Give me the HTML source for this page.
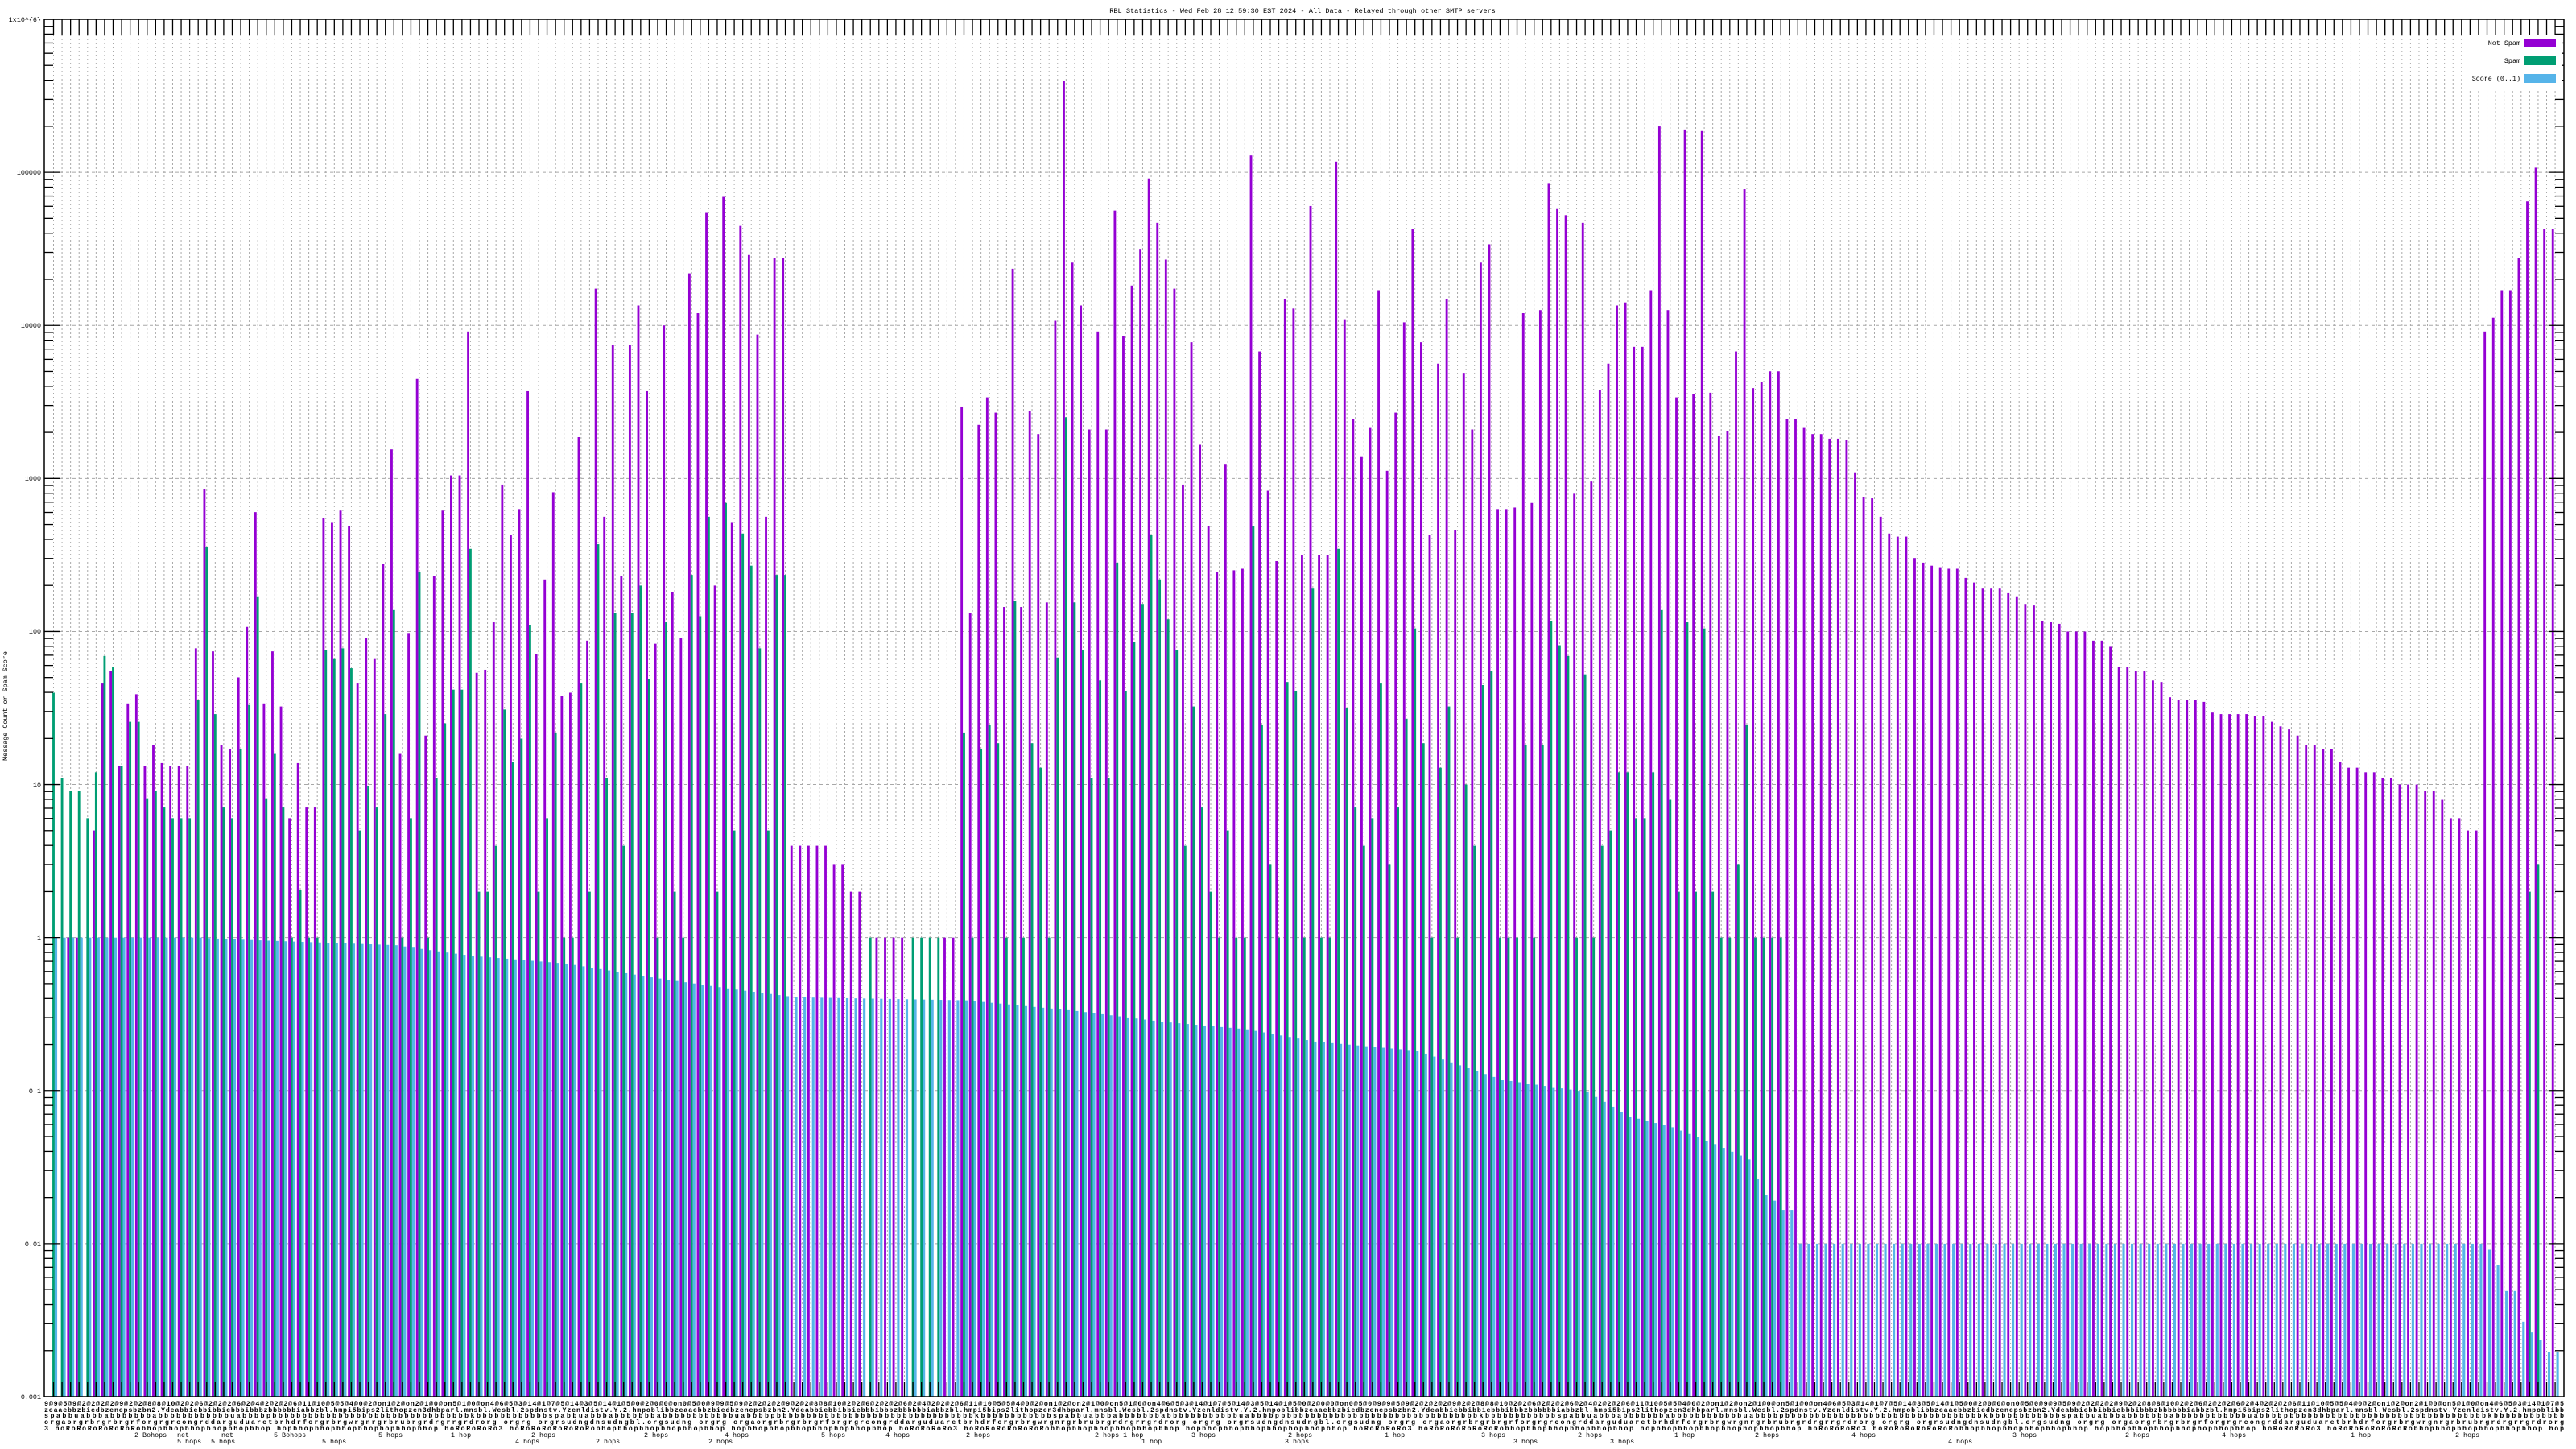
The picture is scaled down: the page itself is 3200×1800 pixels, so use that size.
<!DOCTYPE html>
<html><head><meta charset="utf-8">
<style>
html,body{margin:0;padding:0;background:#fff;}
svg{display:block;}
text{font-family:"Liberation Mono","DejaVu Sans Mono",monospace;fill:#000;}
</style></head>
<body>
<svg id="c" width="3200" height="1800" viewBox="0 0 3200 1800" xmlns="http://www.w3.org/2000/svg">
<rect x="0" y="0" width="3200" height="1800" fill="#fff"/>
<g id="grid"></g>
<g id="bars"></g>
<g id="axes"></g>
<rect x="3066" y="44" width="116" height="66" fill="#fff"/>
<text x="1618" y="16" font-size="8.6" text-anchor="middle">RBL Statistics - Wed Feb 28 12:59:30 EST 2024 - All Data - Relayed through other SMTP servers</text>
<g font-size="8.4" text-anchor="end">
<text x="51" y="27">1x10^{6}</text>
<text x="51" y="217">100000</text>
<text x="51" y="407">10000</text>
<text x="51" y="597">1000</text>
<text x="51" y="787">100</text>
<text x="51" y="978">10</text>
<text x="51" y="1168">1</text>
<text x="51" y="1358">0.1</text>
<text x="51" y="1548">0.01</text>
<text x="51" y="1738">0.001</text>
</g>
<text x="0" y="0" font-size="8.4" text-anchor="middle" transform="translate(9,877) rotate(-90)">Message Count or Spam Score</text>
<g font-size="8.4" text-anchor="end">
<text x="3131" y="56">Not Spam</text>
<text x="3131" y="78">Spam</text>
<text x="3131" y="100">Score (0..1)</text>
</g>
<rect x="3136" y="48" width="39" height="11" fill="#9400d3"/>
<rect x="3136" y="70" width="39" height="11" fill="#009e73"/>
<rect x="3136" y="92" width="39" height="11" fill="#56b4e9"/>
<g font-size="8.4" font-weight="bold">
<text x="55" y="1746" textLength="3130" lengthAdjust="spacing">9@9@5@9@2@2@2@2@9@2@2@8@8@10@2@2@6@2@2@2@6@2@4@2@2@2@6@11@10@5@5@4@0@2@on1@2@on2@1@0@on5@1@0@on4@6@5@3@14@1@7@5@14@3@5@14@1@5@0@2@0@0@on0@5@0@9@9@5@9@2@2@2@2@9@2@2@8@8@10@2@2@6@2@2@2@6@2@4@2@2@2@6@11@10@5@5@4@0@2@on1@2@on2@1@0@on5@1@0@on4@6@5@3@14@1@7@5@14@3@5@14@1@5@0@2@0@0@on0@5@0@9@9@5@9@2@2@2@2@9@2@2@8@8@10@2@2@6@2@2@2@6@2@4@2@2@2@6@11@10@5@5@4@0@2@on1@2@on2@1@0@on5@1@0@on4@6@5@3@14@1@7@5@14@3@5@14@1@5@0@2@0@0@on0@5@0@9@9@5@9@2@2@2@2@9@2@2@8@8@10@2@2@6@2@2@2@6@2@4@2@2@2@6@11@10@5@5@4@0@2@on1@2@on2@1@0@on5@1@0@on4@6@5@3@14@1@7@5</text>
<text x="55" y="1754" textLength="3130" lengthAdjust="spacing">zeaaebbzbiedbzenepsbzbn2.Ydeabbiebbibbiebbbibbbzbbbbbbiabbzbl.hmpi5bips2lithopzen3dhbparl.mnsbl.Wesbl.2spdnstv.Yzenldistv.Y.2.hmpoblibbzeaaebbzbiedbzenepsbzbn2.Ydeabbiebbibbiebbbibbbzbbbbbbiabbzbl.hmpi5bips2lithopzen3dhbparl.mnsbl.Wesbl.2spdnstv.Yzenldistv.Y.2.hmpoblibbzeaaebbzbiedbzenepsbzbn2.Ydeabbiebbibbiebbbibbbzbbbbbbiabbzbl.hmpi5bips2lithopzen3dhbparl.mnsbl.Wesbl.2spdnstv.Yzenldistv.Y.2.hmpoblibbzeaaebbzbiedbzenepsbzbn2.Ydeabbiebbibbiebbbibbbzbbbbbbiabbzbl.hmpi5bips2lithopzen3dhbparl.mnsbl.Wesbl.2spdnstv.Yzenldistv.Y.2.hmpoblibb</text>
<text x="55" y="1761" textLength="3130" lengthAdjust="spacing">spabbuabbbabbbbbbbabbbbbbbbbbbbuabbbbpbbbbbbbbbbbbbbbbbbbbbbbbbbbbbbbbbkbbbbbbbbbbbbspabbuabbbabbbbbbbabbbbbbbbbbbbuabbbbpbbbbbbbbbbbbbbbbbbbbbbbbbbbbbbbbbkbbbbbbbbbbbbspabbuabbbabbbbbbbabbbbbbbbbbbbuabbbbpbbbbbbbbbbbbbbbbbbbbbbbbbbbbbbbbbkbbbbbbbbbbbbspabbuabbbabbbbbbbabbbbbbbbbbbbuabbbbpbbbbbbbbbbbbbbbbbbbbbbbbbbbbbbbbbkbbbbbbbbbbbbspabbuabbbabbbbbbbabbbbbbbbbbbbuabbbbpbbbbbbbbbbbbbbbbbbbbbbbbbbbbbbbbbkbbbbbbbbbbbb</text>
<text x="55" y="1769" textLength="3130" lengthAdjust="spacing">orgaorgrbrgrbrgrforgrgrcongrddarguduaretbrhdrforgrbrgwrgnrgrbrubrgrdrgrrgrdrorg orgrg orgrsudngdnsudngbl.orgsudng orgrg orgaorgrbrgrbrgrforgrgrcongrddarguduaretbrhdrforgrbrgwrgnrgrbrubrgrdrgrrgrdrorg orgrg orgrsudngdnsudngbl.orgsudng orgrg orgaorgrbrgrbrgrforgrgrcongrddarguduaretbrhdrforgrbrgwrgnrgrbrubrgrdrgrrgrdrorg orgrg orgrsudngdnsudngbl.orgsudng orgrg orgaorgrbrgrbrgrforgrgrcongrddarguduaretbrhdrforgrbrgwrgnrgrbrubrgrdrgrrgrdrorg</text>
<text x="55" y="1777" textLength="3130" lengthAdjust="spacing">3 hoRoRoRoRoRoRoRobhopbhopbhopbhopbhopbhop hopbhopbhopbhopbhophopbhopbhop hoRoRoRoRo3 hoRoRoRoRoRoRoRobhopbhopbhopbhopbhopbhop hopbhopbhopbhopbhophopbhopbhop hoRoRoRoRo3 hoRoRoRoRoRoRoRobhopbhopbhopbhopbhopbhop hopbhopbhopbhopbhophopbhopbhop hoRoRoRoRo3 hoRoRoRoRoRoRoRobhopbhopbhopbhopbhopbhop hopbhopbhopbhopbhophopbhopbhop hoRoRoRoRo3 hoRoRoRoRoRoRoRobhopbhopbhopbhopbhopbhop hopbhopbhopbhopbhophopbhopbhop hoRoRoRoRo3 hoRoRoRoRoRoRoRobhopbhopbhopbhopbhopbhop hop</text>
</g>
<g font-size="8.4">
<text x="167" y="1785">2 Bohops</text><text x="220" y="1785">net</text><text x="275" y="1785">net</text>
<text x="340" y="1785">5 Bohops</text><text x="470" y="1785">5 hops</text><text x="560" y="1785">1 hop</text>
<text x="660" y="1785">2 hops</text><text x="800" y="1785">2 hops</text><text x="900" y="1785">4 hops</text>
<text x="1020" y="1785">5 hops</text><text x="1100" y="1785">4 hops</text><text x="1200" y="1785">2 hops</text>
<text x="1360" y="1785">2 hops 1 hop</text><text x="1480" y="1785">3 hops</text><text x="1600" y="1785">2 hops</text>
<text x="1720" y="1785">1 hop</text><text x="1840" y="1785">3 hops</text><text x="1960" y="1785">2 hops</text>
<text x="2080" y="1785">1 hop</text><text x="2180" y="1785">2 hops</text><text x="2300" y="1785">4 hops</text>
<text x="2500" y="1785">3 hops</text><text x="2640" y="1785">2 hops</text><text x="2760" y="1785">4 hops</text>
<text x="2920" y="1785">1 hop</text><text x="3050" y="1785">2 hops</text>
<text x="220" y="1793">5 hops</text><text x="262" y="1793">5 hops</text><text x="400" y="1793">5 hops</text>
<text x="640" y="1793">4 hops</text><text x="740" y="1793">2 hops</text><text x="880" y="1793">2 hops</text>
<text x="1418" y="1793">1 hop</text><text x="1596" y="1793">3 hops</text><text x="1880" y="1793">3 hops</text>
<text x="2000" y="1793">3 hops</text><text x="2420" y="1793">4 hops</text>
</g>
</svg>
<script>
(function(){
var NS="http://www.w3.org/2000/svg";
function el(p,t,a){var e=document.createElementNS(NS,t);for(var k in a)e.setAttribute(k,a[k]);p.appendChild(e);return e;}
var n=null;
var P=[n,n,0,0,n,.70,1.66,1.74,1.12,1.53,1.59,1.12,1.26,1.14,1.12,1.12,1.12,1.89,2.93,1.87,1.26,1.23,1.70,2.03,2.78,1.53,1.87,1.51,.78,1.14,.85,.85,2.74,2.71,2.79,2.69,1.66,1.96,1.82,2.44,3.19,1.20,1.99,3.65,1.32,2.36,2.79,3.02,3.02,3.96,
1.73,1.75,2.06,2.96,2.63,2.80,3.57,1.85,2.34,2.91,1.58,1.60,3.27,1.94,4.24,2.75,3.87,2.36,3.87,4.13,3.57,1.92,4.0,2.26,1.96,4.34,4.08,4.74,2.30,4.84,2.71,4.65,4.46,3.94,2.75,4.44,4.44,.6,.6,.6,.6,.6,.48,.48,.3,.3,n,0,0,0,
0,n,n,n,n,0,0,3.47,2.12,3.35,3.53,3.43,2.16,4.37,2.16,3.44,3.29,2.19,4.03,5.60,4.41,4.13,3.32,3.96,3.32,4.75,3.93,4.26,4.50,4.96,4.67,4.43,4.24,2.96,3.89,3.22,2.69,2.39,3.09,2.40,2.41,5.11,3.83,2.92,2.46,4.17,4.11,2.50,4.78,2.50,
2.50,5.07,4.04,3.39,3.14,3.33,4.23,3.05,3.43,4.02,4.63,3.89,2.63,3.75,4.17,2.66,3.69,3.32,4.41,4.53,2.80,2.80,2.81,4.08,2.84,4.10,4.93,4.76,4.72,2.90,4.67,2.98,3.58,3.75,4.13,4.15,3.86,3.86,4.23,5.30,4.10,3.53,5.28,3.55,5.27,3.56,3.28,3.31,3.83,4.89,
3.59,3.63,3.70,3.70,3.39,3.39,3.33,3.29,3.29,3.26,3.26,3.25,3.04,2.88,2.87,2.75,2.64,2.62,2.62,2.48,2.45,2.43,2.42,2.41,2.41,2.35,2.32,2.28,2.28,2.28,2.25,2.23,2.18,2.17,2.07,2.06,2.05,2.00,2.00,2.00,1.94,1.94,1.90,1.77,1.77,1.74,1.74,1.68,1.67,1.57,
1.55,1.55,1.55,1.54,1.47,1.46,1.46,1.46,1.46,1.45,1.45,1.41,1.38,1.36,1.32,1.26,1.26,1.23,1.23,1.15,1.11,1.11,1.08,1.08,1.04,1.04,1.00,1.00,1.00,.96,.96,.90,.78,.78,.70,.70,3.96,4.05,4.23,4.23,4.44,4.81,5.03,4.63,4.63];
var G=[1.60,1.04,.96,.96,.78,1.08,1.84,1.77,1.12,1.41,1.41,.91,.96,.85,.78,.78,.78,1.55,2.55,1.46,.85,.78,1.23,1.52,2.23,.91,1.20,.85,0,.31,0,0,1.88,1.82,1.89,1.76,.70,.99,.85,1.46,2.14,0,.78,2.39,0,1.04,1.40,1.62,1.62,2.54,
.30,.30,.60,1.49,1.15,1.30,2.04,.30,.78,1.34,0,0,1.66,.30,2.57,1.04,2.12,.60,2.12,2.30,1.69,0,2.06,.30,0,2.37,2.10,2.75,.30,2.84,.70,2.64,2.43,1.89,.70,2.37,2.37,n,n,n,n,n,n,n,n,n,0,n,n,n,
n,0,0,0,0,n,n,1.34,0,1.23,1.39,1.27,0,2.20,0,1.27,1.11,0,1.83,3.40,2.19,1.88,1.04,1.68,1.04,2.45,1.61,1.93,2.18,2.63,2.34,2.08,1.88,.60,1.51,.85,.30,0,.70,0,0,2.69,1.39,.48,0,1.67,1.61,0,2.28,0,
0,2.54,1.50,.85,.60,.78,1.66,.48,.85,1.43,2.02,1.27,0,1.11,1.51,0,1.00,.60,1.65,1.74,0,0,0,1.26,0,1.26,2.07,1.91,1.84,0,1.72,0,.60,.70,1.08,1.08,.78,.78,1.08,2.14,.90,.30,2.06,.30,2.02,.30,0,0,.48,1.39,
0,0,0,0];
G[291]=.30;G[292]=.48;
var BA=[[0,0],[17,0],[20,-.01],[30,-.03],[40,-.05],[45,-.09],[49,-.12],[60,-.17],[70,-.26],[80,-.34],[87,-.39],[107,-.41],[120,-.48],[130,-.55],[140,-.60],[148,-.68],[160,-.74],[170,-.93],[180,-1.01],[185,-1.17],[190,-1.24],[195,-1.35],[199,-1.45],[200,-1.58],[201,-1.68],[202,-1.72],[203,-1.78],[204,-1.78],[205,-2],[285,-2],[286,-2.04],[287,-2.14],[288,-2.31],[289,-2.31],[290,-2.51],[291,-2.58],[292,-2.63],[293,-2.71],[294,-2.71]];
function blue(i){for(var k=0;k<BA.length-1;k++){var a=BA[k],b=BA[k+1];if(i>=a[0]&&i<=b[0]){if(b[0]==a[0])return a[1];return a[1]+(b[1]-a[1])*(i-a[0])/(b[0]-a[0]);}}return -2.71;}
var N=295,X0=66.5,PI=10.57,W=2.85,L=55,R=3185,T=24,B=1735,DEC=190.11;
function Y(v){return T+(6-v)*DEC;}
var grid=document.getElementById('grid'),bars=document.getElementById('bars'),axes=document.getElementById('axes');
for(var i=0;i<N;i++){var c=X0+i*PI;
 el(grid,'line',{x1:c,y1:43,x2:c,y2:B,stroke:'#a8a8a8','stroke-width':1,'stroke-dasharray':'2,3'});}
for(var d=1;d<9;d++){var y=T+d*DEC;el(grid,'line',{x1:74,y1:y,x2:3166,y2:y,stroke:'#a8a8a8','stroke-width':1,'stroke-dasharray':'4,4'});}
for(var i=0;i<N;i++){var c=X0+i*PI;
 if(P[i]!=null&&P[i]!==undefined){var y=Y(P[i]);el(bars,'rect',{x:c-1.5*W,y:y,width:W,height:B-y,fill:'#9400d3'});}
 if(G[i]!=null&&G[i]!==undefined){var y=Y(G[i]);el(bars,'rect',{x:c-0.5*W,y:y,width:W,height:B-y,fill:'#009e73'});}
 var yb=Y(blue(i));el(bars,'rect',{x:c+0.5*W,y:yb,width:W+0.3,height:B-yb,fill:'#56b4e9'});
}
el(axes,'rect',{x:L,y:T,width:R-L,height:B-T,fill:'none',stroke:'#000','stroke-width':1.5});
for(var i=0;i<N;i++){var c=X0+i*PI;
 el(axes,'line',{x1:c,y1:T,x2:c,y2:43,stroke:'#000','stroke-width':1.3});
 el(axes,'line',{x1:c,y1:B,x2:c,y2:B-18,stroke:'#000','stroke-width':1.3});}
for(var d=0;d<9;d++){
 var y=T+d*DEC;
 el(axes,'line',{x1:L,y1:y,x2:L+19,y2:y,stroke:'#000','stroke-width':1.3});
 el(axes,'line',{x1:R,y1:y,x2:R-19,y2:y,stroke:'#000','stroke-width':1.3});
 for(var m=2;m<10;m++){var ym=T+(d+1-Math.log10(m))*DEC;
  el(axes,'line',{x1:L,y1:ym,x2:L+11,y2:ym,stroke:'#000','stroke-width':1.3});
  el(axes,'line',{x1:R,y1:ym,x2:R-11,y2:ym,stroke:'#000','stroke-width':1.3});}
}
el(axes,'line',{x1:L,y1:B,x2:L+19,y2:B,stroke:'#000','stroke-width':1.3});
})();
</script>
</body></html>
